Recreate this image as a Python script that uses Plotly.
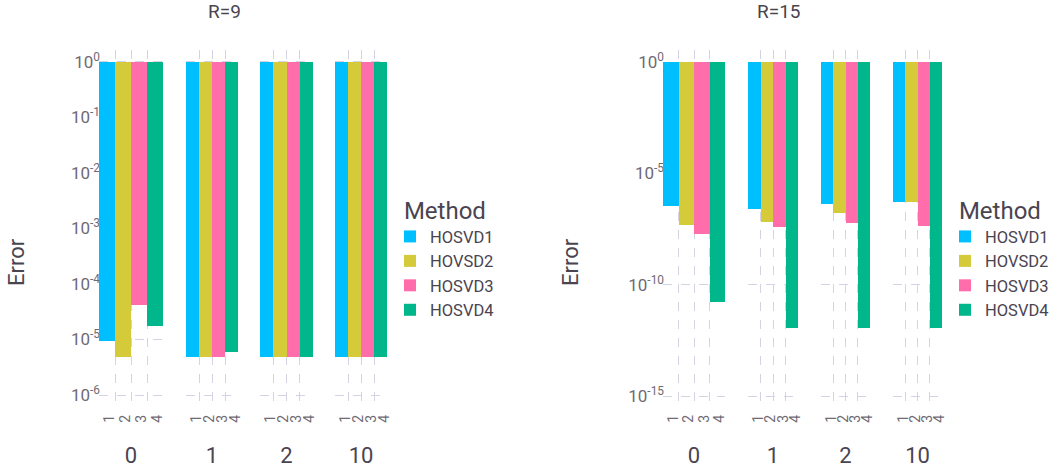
import plotly.graph_objects as go

W, H = 1059, 472

groups = ["0", "1", "2", "10"]
methods = ["HOSVD1", "HOVSD2", "HOSVD3", "HOSVD4"]
method_ticks = ["1", "2", "3", "4"]
colors = ["#00BFFF", "#D4CA3A", "#FF6DAB", "#00B68B"]

# Error values per group (index: groups 0,1,2,10)
err_r9_hosvd1 = [9.5e-6, 4.9e-6, 4.9e-6, 4.9e-6]
err_r9_hovsd2 = [4.9e-6, 4.9e-6, 4.9e-6, 4.9e-6]
err_r9_hosvd3 = [4.2e-5, 4.9e-6, 4.9e-6, 4.9e-6]
err_r9_hosvd4 = [1.75e-5, 5.9e-6, 4.9e-6, 4.9e-6]

err_r15_hosvd1 = [3.6e-7, 2.6e-7, 4.4e-7, 5.4e-7]
err_r15_hovsd2 = [4.9e-8, 6.9e-8, 1.7e-7, 5.4e-7]
err_r15_hosvd3 = [1.9e-8, 4.0e-8, 6.2e-8, 4.4e-8]
err_r15_hosvd4 = [1.7e-11, 1.2e-12, 1.2e-12, 1.2e-12]

r9 = [err_r9_hosvd1, err_r9_hovsd2, err_r9_hosvd3, err_r9_hosvd4]
r15 = [err_r15_hosvd1, err_r15_hovsd2, err_r15_hosvd3, err_r15_hosvd4]

left_px = [(99, 163), (186, 238), (260, 313), (335, 387)]
right_px = [(663, 725), (748, 798), (821, 870), (893, 942)]
ydom = [1 - 407 / H, 1 - 50 / H]

FONT = "Roboto"
TXT = "#4a4450"
TICK = "#6f6a74"
GRID = "#d3d3e4"

fig = go.Figure()
layout = dict(
    width=W, height=H,
    margin=dict(l=0, r=0, t=0, b=0),
    paper_bgcolor="white", plot_bgcolor="white",
    barmode="overlay", bargap=0,
    font=dict(family=FONT, color=TXT),
    showlegend=True,
)

def add_chart(data, px, yname, xstart, legname, yrange, tickvals, ticktext):
    yref = "y" if yname == "yaxis" else "y" + yname[5:]
    for gi, g in enumerate(groups):
        xi = xstart + gi
        xname = "xaxis" if xi == 1 else f"xaxis{xi}"
        xref = "x" if xi == 1 else f"x{xi}"
        layout[xname] = dict(
            domain=[px[gi][0] / W, px[gi][1] / W],
            anchor=yref, range=[1, 5], type="linear",
            tickvals=[1, 2, 3, 4], ticktext=method_ticks, tickangle=-90,
            ticklabelshift=10, ticklabelstandoff=4,
            ticks="", showline=False, zeroline=False,
            showgrid=True, gridcolor=GRID, griddash="dash", gridwidth=1,
            tickfont=dict(size=14, color=TICK, family=FONT),
            title=dict(text=g, font=dict(size=22, color=TXT, family=FONT), standoff=25),
            automargin=False, fixedrange=True,
        )
        for mi, m in enumerate(methods):
            v = data[mi][gi]
            fig.add_trace(go.Bar(
                x=[mi + 1], y=[v - 1], base=[1], offset=0, width=1,
                marker=dict(color=colors[mi], line=dict(width=0)),
                name=m, legendgroup=m + legname, showlegend=(gi == 0),
                legend=legname, xaxis=xref, yaxis=yref,
            ))
    layout[yname] = dict(
        domain=ydom, anchor="x" if xstart == 1 else f"x{xstart}",
        type="log", range=yrange, tickvals=tickvals, ticktext=ticktext,
        ticks="", showline=False, zeroline=False, ticklabelstandoff=-2,
        showgrid=True, gridcolor=GRID, griddash="dash", gridwidth=1,
        tickfont=dict(size=17, color=TICK, family=FONT),
        automargin=False, fixedrange=True,
    )

add_chart(r9, left_px, "yaxis", 1, "legend", [-6.216, 0.216],
          [10.0 ** -k for k in range(0, 7)],
          [f"10<sup>{-k if k else 0}</sup>" for k in range(0, 7)])
add_chart(r15, right_px, "yaxis2", 5, "legend2", [-15.49, 0.54],
          [1, 1e-5, 1e-10, 1e-15],
          ["10<sup>0</sup>", "10<sup>-5</sup>", "10<sup>-10</sup>", "10<sup>-15</sup>"])

leg_common = dict(
    xanchor="left", yanchor="top", bgcolor="rgba(0,0,0,0)",
    font=dict(size=16.5, color=TXT, family=FONT),
    title=dict(text="&nbsp;&nbsp;Method", font=dict(size=24, color=TXT, family=FONT)),
    itemwidth=30, tracegroupgap=0,
)
layout["legend"] = dict(x=390 / W, y=1 - 188 / H, **leg_common)
layout["legend2"] = dict(x=945 / W, y=1 - 188 / H, **leg_common)

layout["annotations"] = [
    dict(text="R=9", x=224 / W, y=1 - 11 / H, xref="paper", yref="paper",
         xanchor="center", yanchor="middle",
         showarrow=False, font=dict(size=19, color=TXT, family=FONT)),
    dict(text="R=15", x=779 / W, y=1 - 11 / H, xref="paper", yref="paper",
         xanchor="center", yanchor="middle",
         showarrow=False, font=dict(size=19, color=TXT, family=FONT)),
    dict(text="Error", x=16 / W, y=1 - 262 / H, xref="paper", yref="paper",
         xanchor="center", yanchor="middle",
         textangle=-90, showarrow=False, font=dict(size=22, color=TXT, family=FONT)),
    dict(text="Error", x=570 / W, y=1 - 262 / H, xref="paper", yref="paper",
         xanchor="center", yanchor="middle",
         textangle=-90, showarrow=False, font=dict(size=22, color=TXT, family=FONT)),
]

fig.update_layout(**layout)
fig.write_html("out.html", config={"displayModeBar": False},
               post_script="document.body.style.margin='0px';")
